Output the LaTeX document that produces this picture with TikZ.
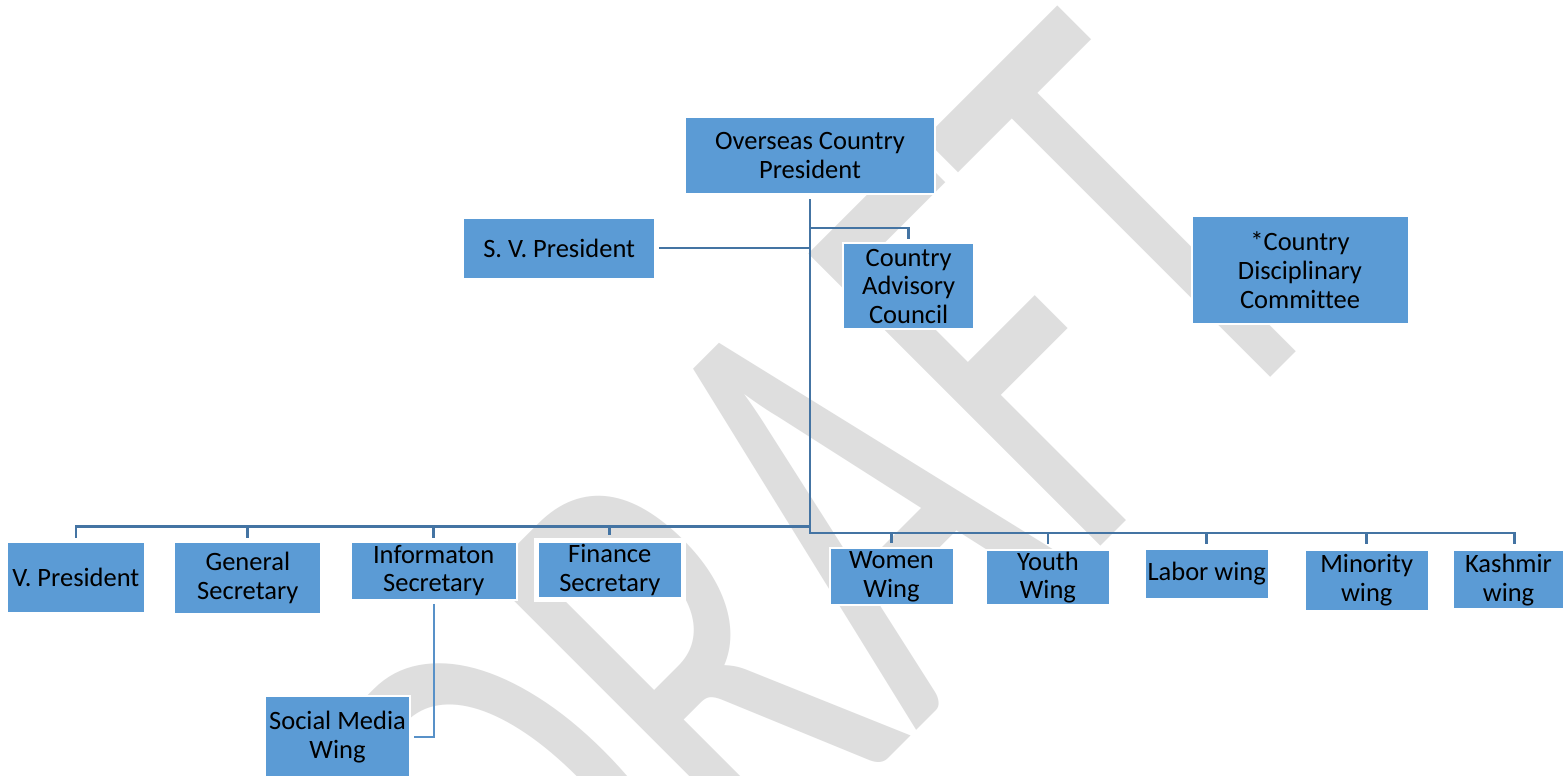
\documentclass[tikz,border=0pt]{standalone}
\usepackage{fontspec}
\usepackage{graphicx}
\setmainfont{Carlito}[Ligatures=NoCommon]
\definecolor{boxblue}{RGB}{91,155,213}
\definecolor{linec}{RGB}{68,116,163}
\definecolor{linel}{RGB}{88,145,200}
\definecolor{wm}{RGB}{222,222,222}
\newcommand{\boxfont}{\fontsize{26.5}{28.8}\selectfont}
\tikzset{
  orgbox/.style={draw=white, line width=2pt, fill=boxblue, align=center, inner sep=0pt, font=\boxfont, text=black},
  conn/.style={draw=linec, line width=2.8pt},
  connthin/.style={draw=linel, line width=2pt}
}
\begin{document}
\begin{tikzpicture}[x=1pt,y=-1pt]
\useasboundingbox (0,0) rectangle (1563,776);
\clip (0,0) rectangle (1563,776);
\fill[white] (0,0) rectangle (1563,776);
% watermark
\node[rotate=45, inner sep=0pt, text=wm] (wmark) at (822,533) {\fontsize{644}{644}\selectfont\scalebox{0.63}[1]{DRAFT}};
% nodes
\node[orgbox, minimum width=250, minimum height=77] (ocp) at (810,155.8) {Overseas Country\\President};
\node[orgbox, minimum width=192, minimum height=61] (svp) at (559.2,248.8) {S. V. President};
\node[orgbox, minimum width=131, minimum height=86] (cac) at (908.7,286.3) {Country\\Advisory\\Council};
\node[orgbox, minimum width=217, minimum height=108] (cdc) at (1300,270.3) {*Country\\Disciplinary\\Committee};
\node[orgbox, minimum width=138, minimum height=71] (vp) at (75.9,577.2) {V. President};
\node[orgbox, minimum width=147, minimum height=72] (gs) at (247.8,577.7) {General\\Secretary};
\node[orgbox, minimum width=166, minimum height=58] (is) at (433.7,570.5) {Informaton\\Secretary};
\node[orgbox, line width=5pt, minimum width=147, minimum height=58.4] (fs) at (609.8,570) {Finance\\Secretary};
\node[orgbox, minimum width=124, minimum height=57] (ww) at (891.5,576.7) {Women\\Wing};
\node[orgbox, minimum width=124, minimum height=55] (yw) at (1047.9,577.5) {Youth\\Wing};
\node[orgbox, minimum width=124, minimum height=50] (lw) at (1206.7,573.5) {Labor wing};
\node[orgbox, minimum width=124, minimum height=61] (mw) at (1366.7,580.5) {Minority\\wing};
\node[orgbox, minimum width=112, minimum height=59] (kw) at (1508.5,579.7) {Kashmir\\wing};
\node[orgbox, minimum width=145, minimum height=81] (smw) at (337.5,736.7) {Social Media\\Wing};
% junction coordinates
\coordinate (jL) at (809.5,526.5);
\coordinate (jR) at (809.5,533);
\coordinate (jA) at (809.5,228);
\coordinate (jS) at (809.5,248);
% connectors
\draw[conn] ([yshift=-4pt]ocp.south) -- (ocp.south |- jR) -- ([xshift=6pt]kw.north |- jR) -- ([xshift=6pt,yshift=5pt]kw.north);
\draw[conn] (ocp.south |- jL) -- (vp.north |- jL) -- ([yshift=3pt]vp.north);
\draw[conn] (gs.north |- jL) -- ([yshift=3pt]gs.north);
\draw[conn] (is.north |- jL) -- ([yshift=3pt]is.north);
\draw[conn] (fs.north |- jL) -- ([yshift=3pt]fs.north);
\draw[conn] (ww.north |- jR) -- ([yshift=4pt]ww.north);
\draw[conn] (yw.north |- jR) -- ([yshift=5pt]yw.north);
\draw[conn] (lw.north |- jR) -- ([yshift=4pt]lw.north);
\draw[conn] (mw.north |- jR) -- ([yshift=5pt]mw.north);
\draw[conn] ([xshift=3pt]svp.east |- jS) -- (jS);
\draw[conn] (jA) -- (cac.north |- jA) -- ([yshift=3pt]cac.north);
\draw[connthin] ([yshift=-3.4pt]is.south) -- (is.south |- smw.east) -- ([xshift=3.3pt]smw.east);
\end{tikzpicture}
\end{document}
